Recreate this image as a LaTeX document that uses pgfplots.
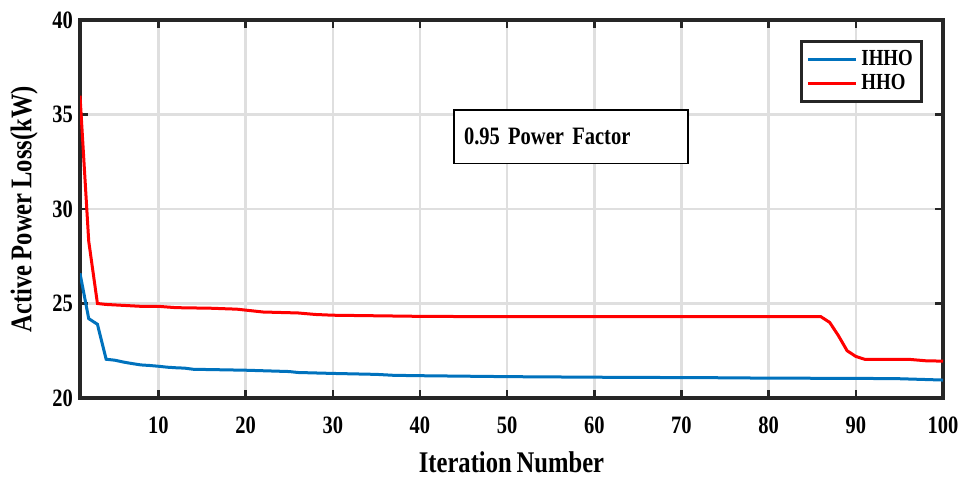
\documentclass[border=0pt]{standalone}
\usepackage{fontspec}
\setmainfont{Liberation Serif}[FakeStretch=0.82,WordSpace=0.8]
\usepackage{pgfplots}
\pgfplotsset{compat=1.18}

\definecolor{ihho}{rgb}{0,0.447,0.741}
\definecolor{hho}{rgb}{1,0,0}

\begin{document}
\begin{tikzpicture}
\begin{axis}[
  scale only axis,
  width=431.5pt, height=189pt,
  xmin=1, xmax=100, ymin=20, ymax=40,
  xtick={10,20,...,100},
  ytick={20,25,...,40},
  tick align=inside,
  major tick length=4pt,
  tick style={line width=1.3pt, black!85},
  axis line style={line width=1.6pt, black!85},
  grid=major,
  grid style={line width=1.2pt, gray!25},
  /pgf/number format/assume math mode=true,
  tick label style={font=\fontsize{12.5}{14}\selectfont\bfseries},
  xticklabel style={yshift=-6pt},
  label style={font=\fontsize{15}{17}\selectfont\bfseries},
  xlabel={Iteration Number},
  xlabel style={yshift=-2pt},
  ylabel={Active Power Loss(kW)},
  ylabel style={yshift=0.5pt},
  legend style={at={(0.977,0.947)}, anchor=north east,
                draw=black!85, line width=1.4pt,
                font=\fontsize{11.5}{13}\selectfont\bfseries,
                legend cell align=left, inner sep=2.5pt,
                row sep=-1pt},
  legend image post style={line width=1.5pt},
  legend image code/.code={\draw[#1] (0pt,0pt) -- (24pt,0pt);},
]
\addplot[color=ihho, line width=1.5pt] coordinates {
  (1,26.6)(2,24.2)(3,23.9)(4,22.05)(5,22.0)(6,21.9)(7,21.82)(8,21.75)
  (9,21.72)(10,21.68)(11,21.63)(12,21.6)(13,21.58)(14,21.52)(20,21.47)
  (25,21.4)(26,21.35)(30,21.3)(35,21.25)(37,21.2)(40,21.18)(50,21.13)
  (60,21.1)(70,21.08)(75,21.07)(80,21.05)(90,21.04)(95,21.02)(100,20.95)
};
\addlegendentry{IHHO}
\addplot[color=hho, line width=1.5pt] coordinates {
  (1,36.0)(2,28.3)(3,25.0)(4,24.95)(6,24.9)(8,24.85)(10,24.85)(12,24.78)
  (16,24.75)(19,24.7)(20,24.65)(22,24.55)(26,24.5)(28,24.42)(30,24.38)
  (40,24.32)(50,24.3)(86,24.3)(87,24.0)(88,23.3)(89,22.5)(90,22.2)
  (91,22.05)(96,22.05)(98,21.97)(100,21.95)
};
\addlegendentry{HHO}
\node[draw=black, line width=0.9pt, fill=white, anchor=north west,
      text width=107pt, minimum height=26.7pt, inner xsep=5pt,
      align=left, font=\fontsize{12.5}{14}\selectfont\bfseries]
  at (axis cs:43.8,35.28) {0.95 Power Factor};
\coordinate (sw) at (rel axis cs:0,0);
\coordinate (ne) at (rel axis cs:1,1);
\end{axis}
\pgfresetboundingbox
\path[use as bounding box] ([shift={(-40pt,-41.5pt)}]sw)
  rectangle ([shift={(11pt,10pt)}]ne);
\end{tikzpicture}
\end{document}
